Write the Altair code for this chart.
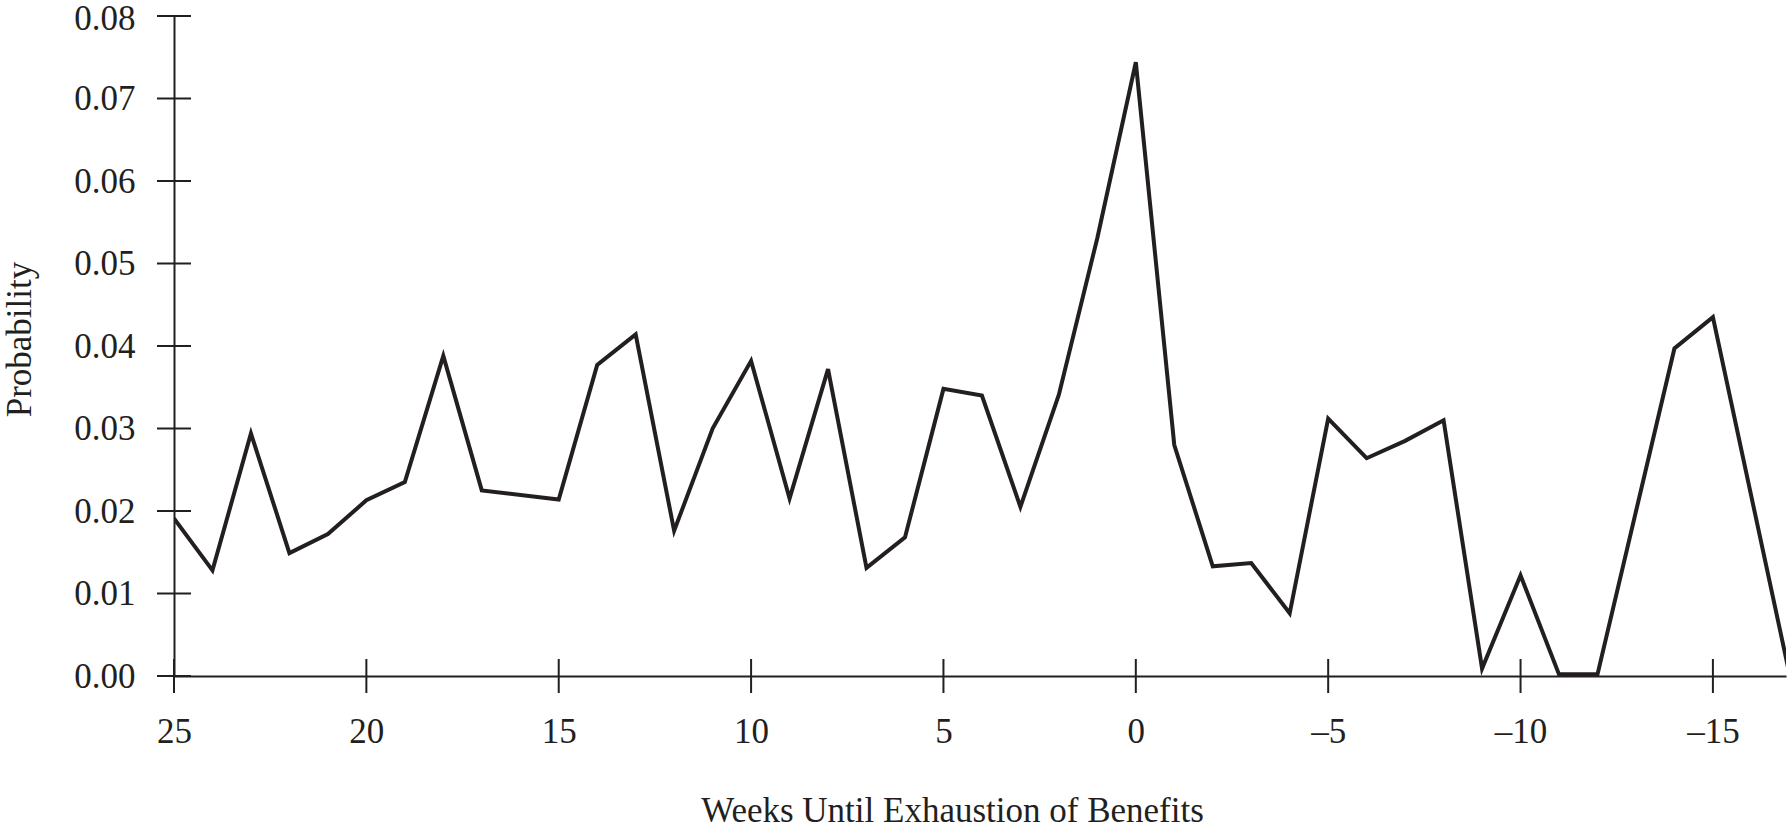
import altair as alt
import pandas as pd

# Weeks until exhaustion of benefits (x) and probability (y)
weeks = [25, 24, 23, 22, 21, 20, 19, 18, 17, 15, 14, 13, 12, 11, 10, 9, 8, 7, 6, 5,
         4, 3, 2, 1, 0, -1, -2, -3, -4, -5, -6, -7, -8, -9, -10, -11, -12, -14, -15, -17]
probability = [0.0191, 0.0128, 0.0294, 0.0149, 0.0172, 0.0213, 0.0235, 0.0388, 0.0225, 0.0214,
               0.0377, 0.0414, 0.0176, 0.0300, 0.0382, 0.0215, 0.0372, 0.0131, 0.0168, 0.0348,
               0.0340, 0.0205, 0.0341, 0.0531, 0.0744, 0.0280, 0.0133, 0.0137, 0.0076, 0.0312,
               0.0264, 0.0285, 0.0310, 0.0009, 0.0122, 0.0002, 0.0002, 0.0397, 0.0435, 0.0]

x_ticks = [25, 20, 15, 10, 5, 0, -5, -10, -15]
y_ticks = [0.0, 0.01, 0.02, 0.03, 0.04, 0.05, 0.06, 0.07, 0.08]

df = pd.DataFrame({"week": weeks, "p": probability})
xt = pd.DataFrame({"v": x_ticks})
yt = pd.DataFrame({"v": y_ticks})

INK = "#231f20"
FONT = "Liberation Serif"
FS = 35

xscale = alt.Scale(domain=[-16.9, 25], reverse=True, nice=False, zero=False)
yscale = alt.Scale(domain=[0, 0.08], nice=False, zero=False)

x_axis = alt.Axis(
    values=x_ticks, title="Weeks Until Exhaustion of Benefits",
    labelExpr="datum.value < 0 ? '\u2013' + abs(datum.value) : '' + datum.value",
    grid=False, domainColor=INK, domainWidth=2, tickOpacity=0, tickSize=17,
    labelPadding=21, labelFont=FONT, labelFontSize=FS, labelColor=INK,
    labelFlush=False, labelOverlap=False,
    titleFont=FONT, titleFontSize=FS, titleFontWeight="normal", titleColor=INK,
    titleX=778, titleY=145, titleAlign="center", titleBaseline="alphabetic",
)
y_axis = alt.Axis(
    values=y_ticks, format=".2f", title="Probability",
    grid=False, domainColor=INK, domainWidth=2, tickOpacity=0, tickSize=17,
    labelPadding=22, labelFont=FONT, labelFontSize=FS, labelColor=INK,
    labelOverlap=False, labelFlush=False,
    labelOffset={"condition": {"test": "datum.value >= 0.079", "value": 2}, "value": 0},
    titleFont=FONT, titleFontSize=FS, titleFontWeight="normal", titleColor=INK,
    titleAngle=270, titleX=-144, titleY=323, titleAlign="center", titleBaseline="alphabetic",
)

line = alt.Chart(df).mark_line(color=INK, strokeWidth=4, clip=True).encode(
    x=alt.X("week:Q", scale=xscale, axis=x_axis),
    y=alt.Y("p:Q", scale=yscale, axis=y_axis),
)

# crossing tick marks (centred on the axis lines)
xtick_marks = alt.Chart(xt).mark_tick(color=INK, thickness=2, size=34, orient="vertical", opacity=1).encode(
    x=alt.X("v:Q", scale=xscale, axis=x_axis),
    y=alt.YDatum(0, type="quantitative", scale=yscale, axis=y_axis),
)

ytick_marks = alt.Chart(yt).mark_tick(color=INK, thickness=2, size=34, orient="horizontal", opacity=1).encode(
    x=alt.XDatum(25, type="quantitative", scale=xscale, axis=x_axis),
    y=alt.Y("v:Q", scale=yscale, axis=y_axis),
)

chart = alt.layer(line, xtick_marks, ytick_marks).properties(
    width=1612, height=660,
    autosize=alt.AutoSizeParams(type="none"),
    padding={"left": 174, "top": 16, "right": 1, "bottom": 153},
    background="white",
).configure_view(stroke=None)

chart.save("out.html", embed_options={"renderer": "svg", "actions": False})
